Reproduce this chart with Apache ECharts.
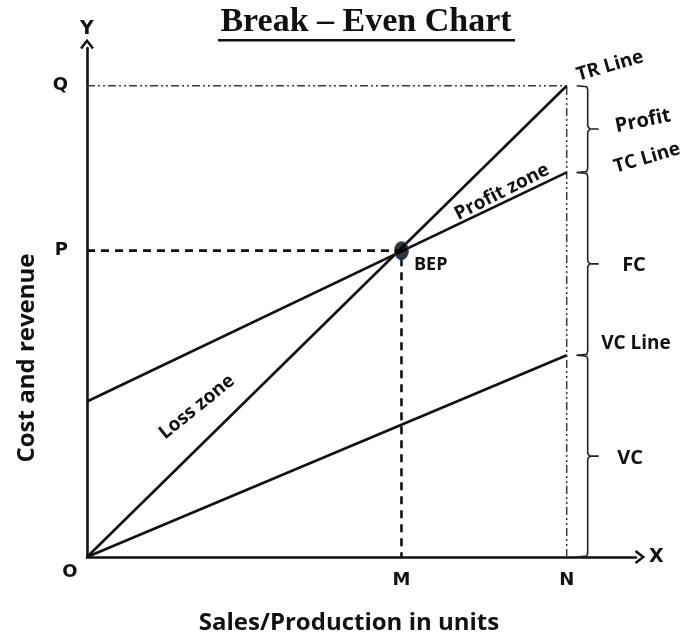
<!DOCTYPE html>
<html>
<head>
<meta charset="utf-8">
<script src="https://cdn.jsdelivr.net/npm/echarts@6/dist/echarts.min.js"></script>
<style>
  html, body { margin: 0; padding: 0; background: #fff; }
  #chart { width: 692px; height: 641px; }
</style>
</head>
<body>
<div id="chart"></div>
<script>
// Break-even chart: quantities on x, cost/revenue on y (arbitrary units)
const unitsX = [0, 59, 90];            // O, M (break-even output), N (capacity)
const trLine = [0, 100];               // total revenue at O and N
const tcLine = [33, 81.6];             // total cost at O and N (fixed cost at O)
const vcLine = [0, 42.8];              // variable cost at O and N
const bep = [59, 65];                  // break-even point (M, P)
const revenueQ = 100;                  // Q: revenue at N
const xTickNames = ['M', 'N'];
const yTickNames = ['P', 'Q'];
const braceNames = ['Profit', 'FC', 'VC'];

const N = unitsX[2];
const M = unitsX[1];
const xTicks = [M, N];
const yTicks = [bep[1], revenueQ];

// brace extents: [top, bottom] on the y scale at output N
const braces = [
  [revenueQ, tcLine[1]],
  [tcLine[1], vcLine[1]],
  [vcLine[1], 0]
];

const labelFont = '"Open Sans", Lato, sans-serif';
const letterFont = '"DejaVu Sans", sans-serif';
const ink = '#111';
const arrowPath = 'path://M0,9 L7,0 L14,9 L12,10.5 L7,4 L2,10.5 Z';

const chart = echarts.init(document.getElementById('chart'));

function seg(xs, ys) {
  return xs.map((x, i) => [x, ys[i]]);
}

const solid = { color: ink, width: 2.6 };
const guide = { color: '#3a3a3a', width: 1.5, type: [8, 3, 2, 3, 2, 3] };

function label(text, x, y, size, rot, align) {
  return {
    type: 'text', x: x, y: y, rotation: rot || 0,
    style: { text: text, fill: ink, font: 'bold ' + size + 'px ' + labelFont,
      align: align || 'center', verticalAlign: 'middle' }
  };
}

chart.setOption({
  animation: false,
  backgroundColor: '#ffffff',
  grid: { left: 87, right: 56, top: 48, bottom: 84 },
  xAxis: {
    type: 'value', min: 0, max: 103,
    name: 'X', nameLocation: 'end', nameGap: 13,
    nameTextStyle: { color: ink, fontSize: 19, fontWeight: 'bold', fontFamily: letterFont },
    axisLine: { show: true, symbol: ['none', arrowPath], symbolSize: [14, 11], symbolOffset: [0, 4],
      lineStyle: { color: ink, width: 2.6 } },
    axisTick: { show: false },
    splitLine: { show: false },
    axisLabel: {
      customValues: xTicks, margin: 14, color: ink, fontSize: 18, fontWeight: 'bold', fontFamily: letterFont,
      formatter: v => xTickNames[xTicks.indexOf(v)] || ''
    }
  },
  yAxis: {
    type: 'value', min: 0, max: 108,
    name: 'Y', nameLocation: 'end', nameGap: 9,
    nameTextStyle: { color: ink, fontSize: 19, fontWeight: 'bold', fontFamily: letterFont },
    axisLine: { show: true, symbol: ['none', arrowPath], symbolSize: [14, 11], symbolOffset: [0, 4],
      lineStyle: { color: ink, width: 2.6 } },
    axisTick: { show: false },
    splitLine: { show: false },
    axisLabel: {
      customValues: yTicks, margin: 19, color: ink, fontSize: 18, fontWeight: 'bold', fontFamily: letterFont,
      formatter: v => yTickNames[yTicks.indexOf(v)] || ''
    }
  },
  graphic: [
    { type: 'text', x: 366, y: 22,
      style: { text: 'Break \u2013 Even Chart', fill: ink, font: 'bold 34px "Liberation Serif", serif',
        align: 'center', verticalAlign: 'middle' } },
    { type: 'rect', shape: { x: 218, y: 39, width: 297, height: 2.6 }, style: { fill: ink } },
    label('Cost and revenue', 27, 358, 24, Math.PI / 2),
    label('Sales/Production in units', 349, 623, 24),
    { type: 'text', x: 70, y: 572,
      style: { text: 'O', fill: ink, font: 'bold 18px ' + letterFont, align: 'center', verticalAlign: 'middle' } },
    label('TR Line', 610, 66, 19, 0.28),
    label(braceNames[0], 643, 121, 20, 0.2),
    label('TC Line', 647, 158, 19, 0.28),
    label(braceNames[1], 634, 265, 20),
    label('VC Line', 636, 344, 19),
    label(braceNames[2], 630, 458, 20),
    label('BEP', 414, 265, 18, 0, 'left'),
    label('Profit zone', 502, 192, 19, 0.47),
    label('Loss zone', 197, 407, 19, 0.68)
  ],
  series: [
    { name: 'Q guide', type: 'line', data: [[0, revenueQ], [N, revenueQ]], symbol: 'none', lineStyle: guide, silent: true },
    { name: 'N guide', type: 'line', data: [[N, 0], [N, revenueQ]], symbol: 'none', lineStyle: guide, silent: true },
    { name: 'BEP guide', type: 'line', data: [[0, bep[1]], [bep[0], bep[1]], [bep[0], 0]], symbol: 'none',
      lineStyle: { color: ink, width: 2.6, type: [8, 6] }, silent: true },
    { name: 'TR Line', type: 'line', data: seg([0, N], trLine), symbol: 'none', lineStyle: solid },
    { name: 'TC Line', type: 'line', data: seg([0, N], tcLine), symbol: 'none', lineStyle: solid },
    { name: 'VC Line', type: 'line', data: seg([0, N], vcLine), symbol: 'none', lineStyle: solid },
    { name: 'BEP', type: 'scatter', data: [bep], symbol: 'circle', symbolSize: [14, 18],
      itemStyle: { color: '#000', borderColor: '#2a4a80', borderWidth: 1.2 }, z: 5 },
    {
      name: 'braces', type: 'custom', data: braces, silent: true,
      renderItem: function (params, api) {
        const top = api.coord([N, api.value(0)]);
        const bot = api.coord([N, api.value(1)]);
        const x0 = top[0] + 10, x1 = top[0] + 21, nub = 11;
        const mid = (top[1] + bot[1]) / 2;
        return {
          type: 'polyline',
          shape: { points: [
            [x0, top[1]], [x1 - 1, top[1] + 1], [x1, top[1] + 4],
            [x1, mid - 3], [x1 + 2, mid], [x1 + nub, mid], [x1 + 2, mid], [x1, mid + 3],
            [x1, bot[1] - 4], [x1 - 1, bot[1] - 1], [x0, bot[1]]
          ] },
          style: { stroke: '#222', lineWidth: 1.6, fill: null }
        };
      }
    }
  ]
});
</script>
</body>
</html>
